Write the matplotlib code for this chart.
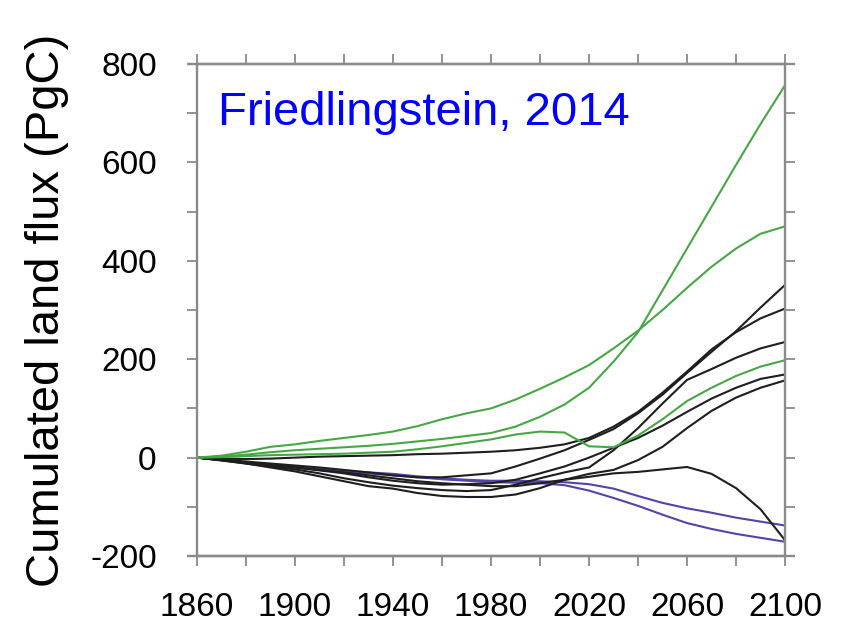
import matplotlib
matplotlib.use("Agg")
import matplotlib.pyplot as plt

plt.rcParams['font.family'] = ['Liberation Sans', 'DejaVu Sans']

# Decadal sample years
years = list(range(1860, 2101, 10))

# Cumulated land flux (PgC) per model run
green_high = [0, 2, 6, 11, 15, 18, 21, 24, 28, 33, 38, 44, 50, 63, 83, 108,
              142, 195, 255, 340, 425, 510, 595, 678, 757]
green_mid = [0, 4, 12, 22, 27, 34, 40, 46, 53, 64, 78, 90, 100, 118, 140, 163,
             188, 222, 258, 300, 345, 388, 425, 455, 470]
green_low = [0, 1, 3, 5, 6, 7, 8, 10, 12, 17, 23, 30, 37, 47, 53, 51,
             23, 21, 45, 78, 115, 142, 166, 185, 198]

black_a = [0, -4, -8, -12, -16, -20, -25, -30, -36, -40, -40, -36, -32, -18, -2, 15,
           36, 58, 90, 128, 172, 215, 257, 305, 351]
black_b = [0, -2, -3, -2, 0, 2, 3, 4, 5, 7, 8, 10, 12, 15, 20, 27,
           40, 63, 93, 132, 175, 220, 255, 283, 303]
black_c = [0, -5, -12, -18, -24, -32, -42, -50, -57, -62, -66, -68, -66, -55, -42, -30,
           -20, 15, 60, 110, 158, 180, 203, 222, 235]
black_d = [0, -5, -10, -15, -20, -26, -32, -40, -47, -52, -55, -54, -52, -45, -32, -18,
           0, 20, 40, 65, 93, 120, 142, 160, 169]
black_e = [0, -6, -12, -20, -28, -38, -48, -58, -63, -72, -78, -80, -80, -75, -62, -45,
           -33, -25, -5, 22, 60, 95, 122, 142, 157]
black_f = [0, -5, -10, -15, -20, -25, -30, -36, -42, -48, -52, -55, -58, -58, -52, -45,
           -39, -32, -29, -24, -19, -33, -62, -105, -168]

purple_a = [0, -4, -10, -15, -19, -23, -27, -30, -33, -38, -42, -45, -47, -47, -48, -50,
            -54, -63, -78, -92, -103, -112, -122, -130, -138]
purple_b = [0, -4, -11, -16, -20, -25, -29, -32, -36, -40, -44, -47, -50, -51, -52, -56,
            -67, -82, -98, -116, -133, -145, -155, -163, -171]

x_major = [1860, 1900, 1940, 1980, 2020, 2060, 2100]
y_major = [-200, 0, 200, 400, 600, 800]

GREEN = '#45a845'
BLACK = '#1e1e1e'
PURPLE = '#5046a8'
SPINE = '#8a8a8a'

fig = plt.figure(figsize=(8.51, 6.27), dpi=100)
ax = fig.add_axes([0.2315, 0.1132, 0.691, 0.7847])

lw = 1.5
for s in (purple_a, purple_b):
    ax.plot(years, s, color=PURPLE, lw=lw)
for s in (black_a, black_b, black_c, black_d, black_e, black_f):
    ax.plot(years, s, color=BLACK, lw=lw)
for s in (green_high, green_mid, green_low):
    ax.plot(years, s, color=GREEN, lw=lw)

ax.set_xlim(1860, 2100)
ax.set_ylim(-200, 800)

ax.set_xticks(x_major)
ax.set_xticks(range(1860, 2101, 20), minor=True)
ax.set_yticks(y_major)
ax.set_yticks(range(-200, 801, 100), minor=True)
ax.set_xticklabels([str(v) for v in x_major])
ax.set_yticklabels([str(v) for v in y_major])

for sp in ax.spines.values():
    sp.set_color(SPINE)
    sp.set_linewidth(1.7)

ax.tick_params(which='both', direction='out', length=7, width=1.3, color=SPINE,
               top=True, right=True, labelsize=24)
ax.tick_params(axis='x', which='major', pad=19)
ax.tick_params(axis='y', which='major', pad=22)

# horizontal frame lines run a little past the corners
for yy in (0, 1):
    ax.plot([-0.017, 1.017], [yy, yy], transform=ax.transAxes, color=SPINE,
            lw=1.7, clip_on=False, solid_capstyle='butt')

ax.set_ylabel('Cumulated land flux (PgC)', fontsize=34, va='center')
ax.yaxis.set_label_coords(-0.255, 0.5)

ax.text(0.036, 0.876, 'Friedlingstein, 2014', transform=ax.transAxes,
        fontsize=34, color='#0000ff', ha='left', va='baseline')

fig.savefig('out.png', dpi=100)
